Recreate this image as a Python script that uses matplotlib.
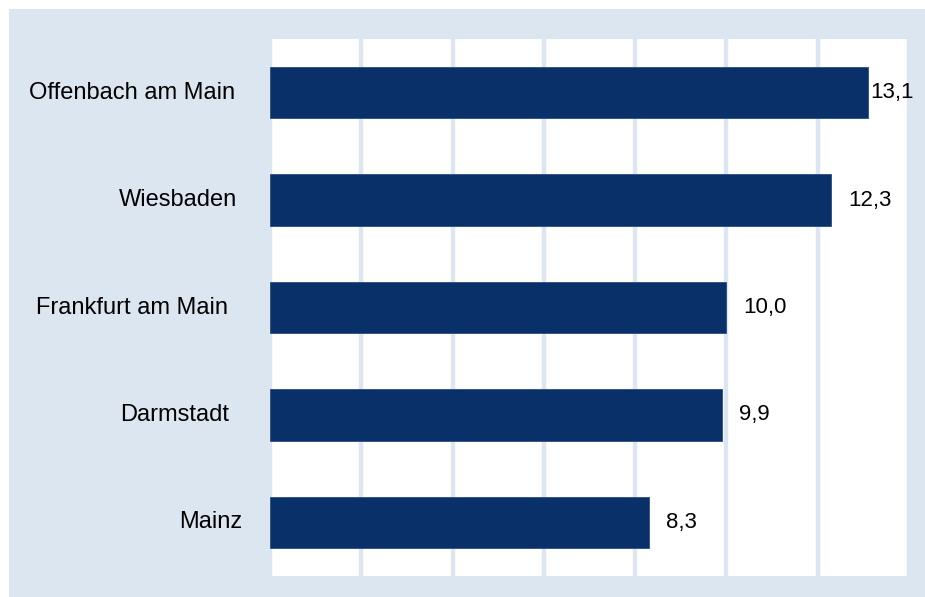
import matplotlib.pyplot as plt
from matplotlib.patches import Rectangle

plt.rcParams['font.family'] = ['Liberation Sans', 'DejaVu Sans']

cities = ["Offenbach am Main", "Wiesbaden", "Frankfurt am Main", "Darmstadt", "Mainz"]
values = [13.1, 12.3, 10.0, 9.9, 8.3]
x_ticks = [0, 2, 4, 6, 8, 10, 12, 14]

bg = "#dce6f1"
bar_color = "#093069"

fig = plt.figure(figsize=(9.25, 5.97), dpi=100)
fig.patch.set_facecolor("white")
# light blue panel behind the chart
panel = Rectangle((9 / 925, 0), 1, 588 / 597, transform=fig.transFigure,
                  facecolor=bg, edgecolor="none", zorder=-5)
fig.add_artist(panel)

ax = fig.add_axes([270 / 925, 21 / 597, 639 / 925, 537 / 597])
ax.set_zorder(1)
ax.set_facecolor("white")

ypos = list(range(len(cities)))
ax.barh(ypos, values, height=0.48, color=bar_color, edgecolor="#2a4c80",
        linewidth=0.6, zorder=3)

ax.set_xlim(0, 14)
ax.set_ylim(len(cities) - 0.5, -0.5)
ax.set_xticks(x_ticks)
ax.xaxis.grid(True, color=bg, linewidth=3.2, zorder=1)
ax.set_axisbelow(True)
ax.tick_params(axis="x", length=0, labelbottom=False)
ax.tick_params(axis="y", length=0, labelleft=False)
for s in ax.spines.values():
    s.set_visible(False)

# category labels left of the plot (the original ones are not quite aligned)
label_gap = [-35, -33, -42, -41, -28]
for y, name, g in zip(ypos, cities, label_gap):
    ax.annotate(name, xy=(0, y), xytext=(g, 0),
                textcoords="offset pixels", ha="right", va="center",
                fontsize=17, color="black", annotation_clip=False)

# value labels
for y, v in zip(ypos, values):
    off = 2 if v > 13 else 17
    ax.annotate(f"{v:.1f}".replace(".", ","), xy=(v, y), xytext=(off, 0),
                textcoords="offset pixels", ha="left", va="center",
                fontsize=16, color="black", annotation_clip=False)

fig.savefig("out.png", dpi=100, facecolor=fig.get_facecolor())
